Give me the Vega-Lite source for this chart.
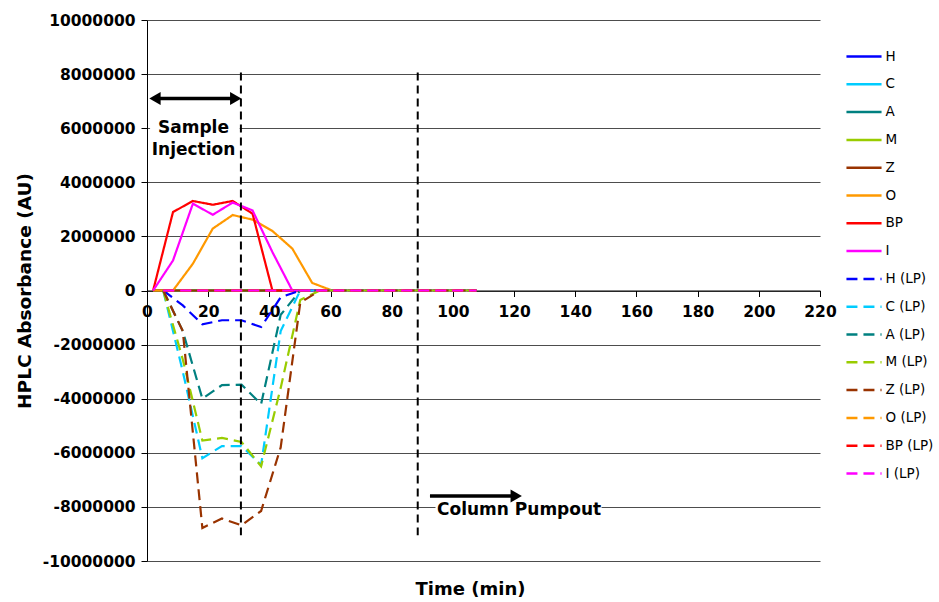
{
  "$schema": "https://vega.github.io/schema/vega-lite/v6.json",
  "width": 673,
  "height": 541,
  "autosize": {"type": "none"},
  "padding": {"left": 147, "top": 20, "right": 119, "bottom": 41},
  "background": "white",
  "config": {
    "view": {"stroke": null},
    "font": "DejaVu Sans"
  },
  "datasets": {
    "series": [
      {"s":"H","t":2,"v":0},{"s":"H","t":8.5,"v":0},{"s":"H","t":15,"v":0},{"s":"H","t":21.5,"v":0},{"s":"H","t":28,"v":0},{"s":"H","t":34.5,"v":0},{"s":"H","t":41,"v":0},{"s":"H","t":47.5,"v":0},{"s":"H","t":54,"v":0},{"s":"H","t":60.5,"v":0},{"s":"H","t":67,"v":0},{"s":"H","t":73.5,"v":0},{"s":"H","t":80,"v":0},{"s":"H","t":86.5,"v":0},{"s":"H","t":93,"v":0},{"s":"H","t":99.5,"v":0},{"s":"H","t":106,"v":0},
      {"s":"C","t":2,"v":0},{"s":"C","t":8.5,"v":0},{"s":"C","t":15,"v":0},{"s":"C","t":21.5,"v":0},{"s":"C","t":28,"v":0},{"s":"C","t":34.5,"v":0},{"s":"C","t":41,"v":0},{"s":"C","t":47.5,"v":0},{"s":"C","t":54,"v":0},{"s":"C","t":60.5,"v":0},{"s":"C","t":67,"v":0},{"s":"C","t":73.5,"v":0},{"s":"C","t":80,"v":0},{"s":"C","t":86.5,"v":0},{"s":"C","t":93,"v":0},{"s":"C","t":99.5,"v":0},{"s":"C","t":106,"v":0},
      {"s":"A","t":2,"v":0},{"s":"A","t":8.5,"v":0},{"s":"A","t":15,"v":0},{"s":"A","t":21.5,"v":0},{"s":"A","t":28,"v":0},{"s":"A","t":34.5,"v":0},{"s":"A","t":41,"v":0},{"s":"A","t":47.5,"v":0},{"s":"A","t":54,"v":0},{"s":"A","t":60.5,"v":0},{"s":"A","t":67,"v":0},{"s":"A","t":73.5,"v":0},{"s":"A","t":80,"v":0},{"s":"A","t":86.5,"v":0},{"s":"A","t":93,"v":0},{"s":"A","t":99.5,"v":0},{"s":"A","t":106,"v":0},
      {"s":"M","t":2,"v":0},{"s":"M","t":8.5,"v":0},{"s":"M","t":15,"v":0},{"s":"M","t":21.5,"v":0},{"s":"M","t":28,"v":0},{"s":"M","t":34.5,"v":0},{"s":"M","t":41,"v":0},{"s":"M","t":47.5,"v":0},{"s":"M","t":54,"v":0},{"s":"M","t":60.5,"v":0},{"s":"M","t":67,"v":0},{"s":"M","t":73.5,"v":0},{"s":"M","t":80,"v":0},{"s":"M","t":86.5,"v":0},{"s":"M","t":93,"v":0},{"s":"M","t":99.5,"v":0},{"s":"M","t":106,"v":0},
      {"s":"Z","t":2,"v":0},{"s":"Z","t":8.5,"v":0},{"s":"Z","t":15,"v":0},{"s":"Z","t":21.5,"v":0},{"s":"Z","t":28,"v":0},{"s":"Z","t":34.5,"v":0},{"s":"Z","t":41,"v":0},{"s":"Z","t":47.5,"v":0},{"s":"Z","t":54,"v":0},{"s":"Z","t":60.5,"v":0},{"s":"Z","t":67,"v":0},{"s":"Z","t":73.5,"v":0},{"s":"Z","t":80,"v":0},{"s":"Z","t":86.5,"v":0},{"s":"Z","t":93,"v":0},{"s":"Z","t":99.5,"v":0},{"s":"Z","t":106,"v":0},
      {"s":"O","t":2,"v":0},{"s":"O","t":8.5,"v":0},{"s":"O","t":15,"v":990000},{"s":"O","t":21.5,"v":2290000},{"s":"O","t":28,"v":2790000},{"s":"O","t":34.5,"v":2620000},{"s":"O","t":41,"v":2200000},{"s":"O","t":47.5,"v":1550000},{"s":"O","t":54,"v":280000},{"s":"O","t":60.5,"v":0},{"s":"O","t":67,"v":0},{"s":"O","t":73.5,"v":0},{"s":"O","t":80,"v":0},{"s":"O","t":86.5,"v":0},{"s":"O","t":93,"v":0},{"s":"O","t":99.5,"v":0},{"s":"O","t":106,"v":0},
      {"s":"BP","t":2,"v":0},{"s":"BP","t":8.5,"v":2900000},{"s":"BP","t":15,"v":3310000},{"s":"BP","t":21.5,"v":3170000},{"s":"BP","t":28,"v":3310000},{"s":"BP","t":34.5,"v":2840000},{"s":"BP","t":41,"v":0},{"s":"BP","t":47.5,"v":0},{"s":"BP","t":54,"v":0},{"s":"BP","t":60.5,"v":0},{"s":"BP","t":67,"v":0},{"s":"BP","t":73.5,"v":0},{"s":"BP","t":80,"v":0},{"s":"BP","t":86.5,"v":0},{"s":"BP","t":93,"v":0},{"s":"BP","t":99.5,"v":0},{"s":"BP","t":106,"v":0},
      {"s":"I","t":2,"v":0},{"s":"I","t":8.5,"v":1110000},{"s":"I","t":15,"v":3210000},{"s":"I","t":21.5,"v":2800000},{"s":"I","t":28,"v":3250000},{"s":"I","t":34.5,"v":2960000},{"s":"I","t":41,"v":1420000},{"s":"I","t":47.5,"v":0},{"s":"I","t":54,"v":0},{"s":"I","t":60.5,"v":0},{"s":"I","t":67,"v":0},{"s":"I","t":73.5,"v":0},{"s":"I","t":80,"v":0},{"s":"I","t":86.5,"v":0},{"s":"I","t":93,"v":0},{"s":"I","t":99.5,"v":0},{"s":"I","t":106,"v":0},
      {"s":"H (LP)","t":5.3,"v":0},{"s":"H (LP)","t":11.7,"v":-550000},{"s":"H (LP)","t":18.1,"v":-1250000},{"s":"H (LP)","t":24.5,"v":-1100000},{"s":"H (LP)","t":30.9,"v":-1100000},{"s":"H (LP)","t":37.3,"v":-1350000},{"s":"H (LP)","t":43.7,"v":-250000},{"s":"H (LP)","t":50.1,"v":0},{"s":"H (LP)","t":56.5,"v":0},{"s":"H (LP)","t":62.9,"v":0},{"s":"H (LP)","t":69.3,"v":0},{"s":"H (LP)","t":75.7,"v":0},{"s":"H (LP)","t":82.1,"v":0},{"s":"H (LP)","t":88.5,"v":0},{"s":"H (LP)","t":94.9,"v":0},{"s":"H (LP)","t":101.3,"v":0},{"s":"H (LP)","t":107.7,"v":0},
      {"s":"C (LP)","t":5.3,"v":0},{"s":"C (LP)","t":11.7,"v":-3000000},{"s":"C (LP)","t":18.1,"v":-6200000},{"s":"C (LP)","t":24.5,"v":-5750000},{"s":"C (LP)","t":30.9,"v":-5750000},{"s":"C (LP)","t":37.3,"v":-6450000},{"s":"C (LP)","t":43.7,"v":-1500000},{"s":"C (LP)","t":50.1,"v":0},{"s":"C (LP)","t":56.5,"v":0},{"s":"C (LP)","t":62.9,"v":0},{"s":"C (LP)","t":69.3,"v":0},{"s":"C (LP)","t":75.7,"v":0},{"s":"C (LP)","t":82.1,"v":0},{"s":"C (LP)","t":88.5,"v":0},{"s":"C (LP)","t":94.9,"v":0},{"s":"C (LP)","t":101.3,"v":0},{"s":"C (LP)","t":107.7,"v":0},
      {"s":"A (LP)","t":5.3,"v":0},{"s":"A (LP)","t":11.7,"v":-1500000},{"s":"A (LP)","t":18.1,"v":-4000000},{"s":"A (LP)","t":24.5,"v":-3500000},{"s":"A (LP)","t":30.9,"v":-3480000},{"s":"A (LP)","t":37.3,"v":-4200000},{"s":"A (LP)","t":43.7,"v":-900000},{"s":"A (LP)","t":50.1,"v":0},{"s":"A (LP)","t":56.5,"v":0},{"s":"A (LP)","t":62.9,"v":0},{"s":"A (LP)","t":69.3,"v":0},{"s":"A (LP)","t":75.7,"v":0},{"s":"A (LP)","t":82.1,"v":0},{"s":"A (LP)","t":88.5,"v":0},{"s":"A (LP)","t":94.9,"v":0},{"s":"A (LP)","t":101.3,"v":0},{"s":"A (LP)","t":107.7,"v":0},
      {"s":"M (LP)","t":5.3,"v":0},{"s":"M (LP)","t":11.7,"v":-2550000},{"s":"M (LP)","t":18.1,"v":-5550000},{"s":"M (LP)","t":24.5,"v":-5450000},{"s":"M (LP)","t":30.9,"v":-5600000},{"s":"M (LP)","t":37.3,"v":-6500000},{"s":"M (LP)","t":43.7,"v":-3600000},{"s":"M (LP)","t":50.1,"v":-350000},{"s":"M (LP)","t":56.5,"v":0},{"s":"M (LP)","t":62.9,"v":0},{"s":"M (LP)","t":69.3,"v":0},{"s":"M (LP)","t":75.7,"v":0},{"s":"M (LP)","t":82.1,"v":0},{"s":"M (LP)","t":88.5,"v":0},{"s":"M (LP)","t":94.9,"v":0},{"s":"M (LP)","t":101.3,"v":0},{"s":"M (LP)","t":107.7,"v":0},
      {"s":"Z (LP)","t":5.3,"v":0},{"s":"Z (LP)","t":11.7,"v":-1500000},{"s":"Z (LP)","t":18.1,"v":-8780000},{"s":"Z (LP)","t":24.5,"v":-8430000},{"s":"Z (LP)","t":30.9,"v":-8680000},{"s":"Z (LP)","t":37.3,"v":-8150000},{"s":"Z (LP)","t":43.7,"v":-5800000},{"s":"Z (LP)","t":50.1,"v":-450000},{"s":"Z (LP)","t":56.5,"v":0},{"s":"Z (LP)","t":62.9,"v":0},{"s":"Z (LP)","t":69.3,"v":0},{"s":"Z (LP)","t":75.7,"v":0},{"s":"Z (LP)","t":82.1,"v":0},{"s":"Z (LP)","t":88.5,"v":0},{"s":"Z (LP)","t":94.9,"v":0},{"s":"Z (LP)","t":101.3,"v":0},{"s":"Z (LP)","t":107.7,"v":0},
      {"s":"O (LP)","t":5.3,"v":0},{"s":"O (LP)","t":11.7,"v":0},{"s":"O (LP)","t":18.1,"v":0},{"s":"O (LP)","t":24.5,"v":0},{"s":"O (LP)","t":30.9,"v":0},{"s":"O (LP)","t":37.3,"v":0},{"s":"O (LP)","t":43.7,"v":0},{"s":"O (LP)","t":50.1,"v":0},{"s":"O (LP)","t":56.5,"v":0},{"s":"O (LP)","t":62.9,"v":0},{"s":"O (LP)","t":69.3,"v":0},{"s":"O (LP)","t":75.7,"v":0},{"s":"O (LP)","t":82.1,"v":0},{"s":"O (LP)","t":88.5,"v":0},{"s":"O (LP)","t":94.9,"v":0},{"s":"O (LP)","t":101.3,"v":0},{"s":"O (LP)","t":107.7,"v":0},
      {"s":"BP (LP)","t":5.3,"v":0},{"s":"BP (LP)","t":11.7,"v":0},{"s":"BP (LP)","t":18.1,"v":0},{"s":"BP (LP)","t":24.5,"v":0},{"s":"BP (LP)","t":30.9,"v":0},{"s":"BP (LP)","t":37.3,"v":0},{"s":"BP (LP)","t":43.7,"v":0},{"s":"BP (LP)","t":50.1,"v":0},{"s":"BP (LP)","t":56.5,"v":0},{"s":"BP (LP)","t":62.9,"v":0},{"s":"BP (LP)","t":69.3,"v":0},{"s":"BP (LP)","t":75.7,"v":0},{"s":"BP (LP)","t":82.1,"v":0},{"s":"BP (LP)","t":88.5,"v":0},{"s":"BP (LP)","t":94.9,"v":0},{"s":"BP (LP)","t":101.3,"v":0},{"s":"BP (LP)","t":107.7,"v":0},
      {"s":"I (LP)","t":5.3,"v":0},{"s":"I (LP)","t":11.7,"v":0},{"s":"I (LP)","t":18.1,"v":0},{"s":"I (LP)","t":24.5,"v":0},{"s":"I (LP)","t":30.9,"v":0},{"s":"I (LP)","t":37.3,"v":0},{"s":"I (LP)","t":43.7,"v":0},{"s":"I (LP)","t":50.1,"v":0},{"s":"I (LP)","t":56.5,"v":0},{"s":"I (LP)","t":62.9,"v":0},{"s":"I (LP)","t":69.3,"v":0},{"s":"I (LP)","t":75.7,"v":0},{"s":"I (LP)","t":82.1,"v":0},{"s":"I (LP)","t":88.5,"v":0},{"s":"I (LP)","t":94.9,"v":0},{"s":"I (LP)","t":101.3,"v":0},{"s":"I (LP)","t":107.7,"v":0}
    ],
    "boxes": [
      {"t1": 1, "t2": 30.3, "v1": 4650000, "v2": 6450000},
      {"t1": 94.3, "t2": 148.6, "v1": -7700000, "v2": -8500000}
    ],
    "vlines": [
      {"t": 30.7, "v1": 8060000, "v2": -9050000},
      {"t": 88.5, "v1": 8060000, "v2": -9050000}
    ],
    "arrows": [
      {"t1": 2.6, "t2": 29.0, "v": 7100000},
      {"t1": 92.5, "t2": 120.7, "v": -7600000}
    ],
    "heads": [
      {"t": 2.6, "v": 7100000, "shape": "triangle-left"},
      {"t": 29.0, "v": 7100000, "shape": "triangle-right"},
      {"t": 120.7, "v": -7600000, "shape": "triangle-right"}
    ],
    "centerLabels": [
      {"t": 15.2, "v": 5990000, "text": "Sample"},
      {"t": 15.2, "v": 5180000, "text": "Injection"}
    ],
    "leftLabels": [
      {"t": 94.8, "v": -8130000, "text": "Column Pumpout"}
    ]
  },
  "layer": [
    {
      "data": {"name": "boxes"},
      "mark": {"type": "rect", "fill": "white"},
      "encoding": {
        "x": {"field": "t1", "type": "quantitative", "scale": {"domain": [0, 220], "nice": false}},
        "x2": {"field": "t2"},
        "y": {"field": "v1", "type": "quantitative", "scale": {"domain": [-10000000, 10000000], "nice": false}},
        "y2": {"field": "v2"}
      }
    },
    {
      "data": {"name": "series"},
      "mark": {"type": "line", "strokeWidth": 2.2},
      "encoding": {
        "x": {
          "field": "t", "type": "quantitative",
          "scale": {"domain": [0, 220], "nice": false},
          "axis": {
            "values": [0,20,40,60,80,100,120,140,160,180,200,220],
            "offset": -270.5,
            "grid": false,
            "domainColor": "#000000",
            "domainWidth": 1,
            "tickColor": "#000000",
            "tickSize": 6,
            "labelFont": "DejaVu Sans",
            "labelFontWeight": "bold",
            "labelFontSize": 15.5,
            "labelColor": "#000000",
            "labelPadding": 8,
            "labelFlush": false,
            "title": "Time (min)",
            "titleFont": "DejaVu Sans",
            "titleFontWeight": "bold",
            "titleFontSize": 18,
            "titleColor": "#000000",
            "titleX": 323,
            "titleY": 290
          }
        },
        "y": {
          "field": "v", "type": "quantitative",
          "scale": {"domain": [-10000000, 10000000], "nice": false},
          "axis": {
            "values": [-10000000,-8000000,-6000000,-4000000,-2000000,0,2000000,4000000,6000000,8000000,10000000],
            "format": "d",
            "labelExpr": "replace(datum.label, '\u2212', '-')",
            "grid": true,
            "gridColor": "#4d4d4d",
            "gridWidth": 1,
            "domainColor": "#000000",
            "domainWidth": 1,
            "tickColor": "#000000",
            "tickSize": 6,
            "labelFont": "DejaVu Sans",
            "labelFontWeight": "bold",
            "labelFontSize": 15.5,
            "labelColor": "#000000",
            "labelPadding": 6,
            "title": "HPLC Absorbance (AU)",
            "titleFont": "DejaVu Sans",
            "titleFontWeight": "bold",
            "titleFontSize": 18.5,
            "titleColor": "#000000",
            "titlePadding": 8
          }
        },
        "color": {
          "field": "s", "type": "nominal",
          "scale": {
            "domain": ["H","C","A","M","Z","O","BP","I","H (LP)","C (LP)","A (LP)","M (LP)","Z (LP)","O (LP)","BP (LP)","I (LP)"],
            "range": ["#0000FF","#00CCFF","#008080","#99CC00","#993300","#FF9900","#FF0000","#FF00FF","#0000FF","#00CCFF","#008080","#99CC00","#993300","#FF9900","#FF0000","#FF00FF"]
          },
          "legend": {
            "title": null,
            "orient": "none",
            "legendX": 702.5,
            "legendY": 22,
            "padding": 0,
            "symbolType": "M-1.35,0L1.35,0",
            "symbolSize": 676,
            "symbolStrokeWidth": 2.5,
            "rowPadding": 6.8,
            "labelOffset": 7,
            "labelFont": "DejaVu Sans",
            "labelFontSize": 13.5,
            "labelColor": "#000000",
            "labelLimit": 200
          }
        },
        "strokeDash": {
          "field": "s", "type": "nominal",
          "scale": {
            "domain": ["H","C","A","M","Z","O","BP","I","H (LP)","C (LP)","A (LP)","M (LP)","Z (LP)","O (LP)","BP (LP)","I (LP)"],
            "range": [[1,0],[1,0],[1,0],[1,0],[1,0],[1,0],[1,0],[1,0],[11,6],[11,6],[11,6],[11,6],[11,6],[11,6],[11,6],[11,6]]
          },
          "legend": {
            "title": null,
            "orient": "none",
            "legendX": 702.5,
            "legendY": 22,
            "padding": 0,
            "symbolType": "M-1.35,0L1.35,0",
            "symbolSize": 676,
            "symbolStrokeWidth": 2.5,
            "rowPadding": 6.8,
            "labelOffset": 7,
            "labelFont": "DejaVu Sans",
            "labelFontSize": 13.5,
            "labelColor": "#000000",
            "labelLimit": 200
          }
        },
        "order": {"field": "t", "type": "quantitative"}
      }
    },
    {
      "data": {"name": "vlines"},
      "mark": {"type": "rule", "color": "#000000", "strokeWidth": 2, "strokeDash": [8, 5]},
      "encoding": {
        "x": {"field": "t", "type": "quantitative", "scale": {"domain": [0, 220], "nice": false}},
        "y": {"field": "v1", "type": "quantitative", "scale": {"domain": [-10000000, 10000000], "nice": false}},
        "y2": {"field": "v2"}
      }
    },
    {
      "data": {"name": "arrows"},
      "mark": {"type": "rule", "color": "#000000", "strokeWidth": 3.5},
      "encoding": {
        "x": {"field": "t1", "type": "quantitative", "scale": {"domain": [0, 220], "nice": false}},
        "x2": {"field": "t2"},
        "y": {"field": "v", "type": "quantitative", "scale": {"domain": [-10000000, 10000000], "nice": false}}
      }
    },
    {
      "data": {"name": "heads"},
      "mark": {"type": "point", "filled": true, "color": "#000000", "opacity": 1, "size": 170},
      "encoding": {
        "x": {"field": "t", "type": "quantitative", "scale": {"domain": [0, 220], "nice": false}},
        "y": {"field": "v", "type": "quantitative", "scale": {"domain": [-10000000, 10000000], "nice": false}},
        "shape": {"field": "shape", "type": "nominal", "scale": null, "legend": null}
      }
    },
    {
      "data": {"name": "centerLabels"},
      "mark": {"type": "text", "font": "DejaVu Sans", "fontWeight": "bold", "fontSize": 17, "color": "#000000", "baseline": "middle", "align": "center"},
      "encoding": {
        "x": {"field": "t", "type": "quantitative", "scale": {"domain": [0, 220], "nice": false}},
        "y": {"field": "v", "type": "quantitative", "scale": {"domain": [-10000000, 10000000], "nice": false}},
        "text": {"field": "text"}
      }
    },
    {
      "data": {"name": "leftLabels"},
      "mark": {"type": "text", "font": "DejaVu Sans", "fontWeight": "bold", "fontSize": 17, "color": "#000000", "baseline": "middle", "align": "left"},
      "encoding": {
        "x": {"field": "t", "type": "quantitative", "scale": {"domain": [0, 220], "nice": false}},
        "y": {"field": "v", "type": "quantitative", "scale": {"domain": [-10000000, 10000000], "nice": false}},
        "text": {"field": "text"}
      }
    }
  ]
}
